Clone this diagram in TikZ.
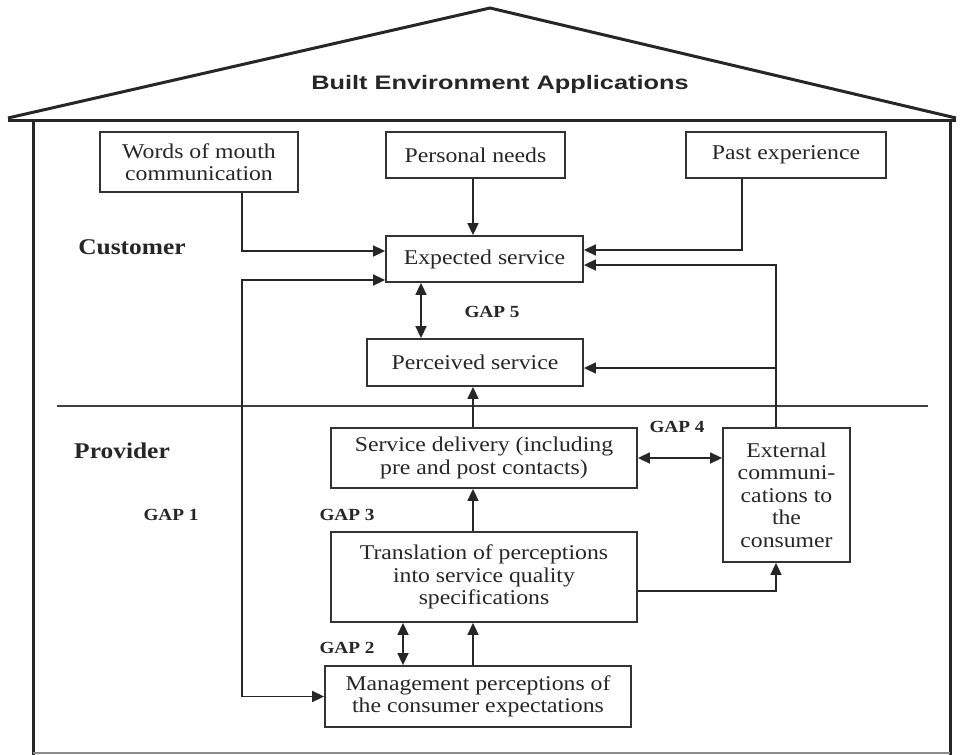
\documentclass[tikz,border=0pt]{standalone}
\usepackage{fontspec}
\setmainfont{Liberation Serif}[FakeStretch=1.13]
\newfontfamily\titlefont{Liberation Sans}[FakeStretch=1.3]
\usetikzlibrary{arrows.meta}
\begin{document}
\begin{tikzpicture}[x=1pt,y=-1pt,
  box/.style={draw=black!80,line width=1.8pt,inner sep=0pt,align=center,
    font=\fontsize{21}{22.5}\selectfont,text=black!85},
  arr/.style={line width=1.6pt,draw=black!85,-{Triangle[length=12pt,width=11pt]}},
  dbl/.style={line width=1.6pt,draw=black!85,{Triangle[length=12pt,width=11pt]}-{Triangle[length=12pt,width=11pt]}},
  lbl/.style={font=\fontsize{17}{17}\selectfont\bfseries,text=black!85},
  side/.style={font=\fontsize{22.5}{22.5}\selectfont\bfseries,text=black!85},
  wall/.style={line width=3pt,draw=black!85}]
\useasboundingbox[fill=white] (0,0) rectangle (962,755);
% house
\draw[wall,line join=miter] (8,118) -- (490,8) -- (956,118);
\draw[wall] (8,120) -- (956,120);
\draw[wall] (33,120) -- (33,755);
\draw[wall] (950,120) -- (950,755);
\draw[line width=1.5pt,draw=black!45] (33,753) -- (950,753);
\node[font=\titlefont\fontsize{19.5}{19.5}\selectfont\bfseries,text=black!85] (title) at (500,84) {Built Environment Applications};
% divider
\draw[line width=1.6pt,draw=black!75] (57,406) -- (928,406);
% boxes
\node[box,minimum width=198pt,minimum height=60pt] (wom) at (199,162) {Words of mouth\\communication};
\node[box,minimum width=179pt,minimum height=46pt] (pn) at (475.5,155) {Personal needs};
\node[box,minimum width=200pt,minimum height=46pt] (pe) at (786,155) {Past experience};
\node[box,minimum width=197pt,minimum height=46pt] (es) at (484.5,259) {Expected service};
\node[box,minimum width=216pt,minimum height=47pt] (ps) at (475,362.5) {Perceived service};
\node[box,minimum width=306pt,minimum height=60pt] (sd) at (484,458) {Service delivery (including\\pre and post contacts)};
\node[box,minimum width=306pt,minimum height=90pt] (tr) at (484,577) {Translation of perceptions\\into service quality\\specifications};
\node[box,minimum width=306pt,minimum height=61pt] (mp) at (478,696.5) {Management perceptions of\\the consumer expectations};
\node[box,minimum width=127pt,minimum height=134pt] (ec) at (786.5,495) {External\\communi-\\cations to\\the\\consumer};
% labels
\node[side] (cust) at (132,247) {Customer};
\node[side] (prov) at (122,451) {Provider};
\node[lbl] (gap1) at (171,515) {GAP 1};
\node[lbl] (gap2) at (347,648) {GAP 2};
\node[lbl] (gap3) at (347,515) {GAP 3};
\node[lbl] (gap4) at (677,427) {GAP 4};
\node[lbl] (gap5) at (492,312) {GAP 5};
% helper coordinates
\coordinate (c1) at (242,251);
\coordinate (g1) at (242,280);
\coordinate (c2) at (742,250);
\coordinate (c3) at (776,265);
\coordinate (c4) at (776,368);
\coordinate (c6) at (776,591);
\coordinate (vx) at (473,400);
\coordinate (g5) at (421,310);
\coordinate (g2) at (403,645);
\coordinate (g4) at (680,458);
% connectors
\draw[arr] (pn.south -| vx) -- (es.north -| vx);
\draw[arr] (wom.south -| c1) |- (es.west |- c1);
\draw[dbl] (es.west |- g1) -- (g1) -- (g1 |- mp.west) -- (mp.west);
\draw[dbl] (es.south -| g5) -- (ps.north -| g5);
\draw[arr] (pe.south -| c2) |- (es.east |- c2);
\draw[arr] (ec.north -| c3) |- (es.east |- c3);
\draw[arr] (c4) -- (ps.east |- c4);
\draw[arr] (sd.north -| vx) -- (ps.south -| vx);
\draw[arr] (tr.north -| vx) -- (sd.south -| vx);
\draw[arr] (mp.north -| vx) -- (tr.south -| vx);
\draw[dbl] (tr.south -| g2) -- (mp.north -| g2);
\draw[dbl] (sd.east |- g4) -- (ec.west |- g4);
\draw[arr] (tr.east |- c6) -| (ec.south -| c6);
\end{tikzpicture}
\end{document}
